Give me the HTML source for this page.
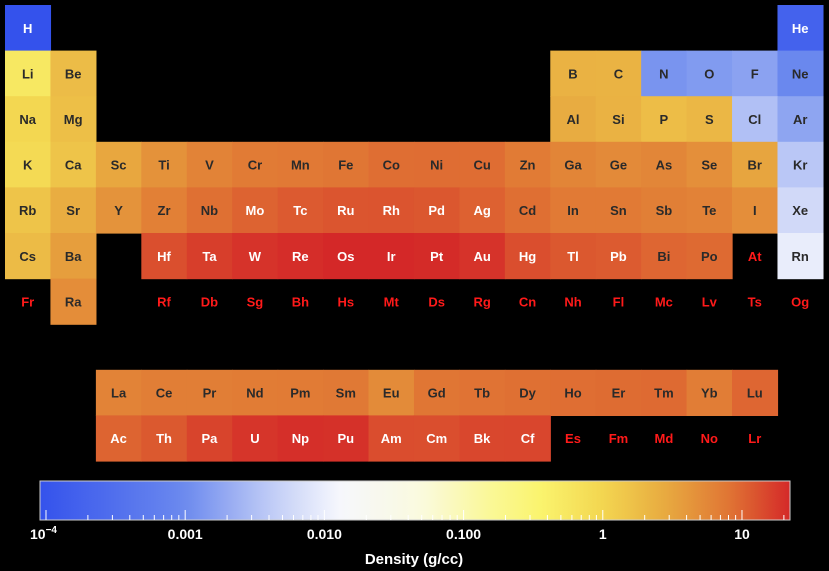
<!DOCTYPE html>
<html><head><meta charset="utf-8"><style>
html,body{margin:0;padding:0;background:#000;}
svg{display:block;font-family:"Liberation Sans",Arial,sans-serif;}
</style></head><body>
<svg id="chart" width="829" height="571" viewBox="0 0 829 571">
<rect width="829" height="571" fill="#000"/>
<g id="cells"></g>
<g id="cbar"></g>
</svg>
<script>
const symbols = ["H","He","Li","Be","B","C","N","O","F","Ne","Na","Mg","Al","Si","P","S","Cl","Ar","K","Ca","Sc","Ti","V","Cr","Mn","Fe","Co","Ni","Cu","Zn","Ga","Ge","As","Se","Br","Kr","Rb","Sr","Y","Zr","Nb","Mo","Tc","Ru","Rh","Pd","Ag","Cd","In","Sn","Sb","Te","I","Xe","Cs","Ba","La","Ce","Pr","Nd","Pm","Sm","Eu","Gd","Tb","Dy","Ho","Er","Tm","Yb","Lu","Hf","Ta","W","Re","Os","Ir","Pt","Au","Hg","Tl","Pb","Bi","Po","At","Rn","Fr","Ra","Ac","Th","Pa","U","Np","Pu","Am","Cm","Bk","Cf","Es","Fm","Md","No","Lr","Rf","Db","Sg","Bh","Hs","Mt","Ds","Rg","Cn","Nh","Fl","Mc","Lv","Ts","Og"];
const densities = [8.99e-5,1.785e-4,0.534,1.85,2.34,2.267,1.251e-3,1.429e-3,1.696e-3,9.0e-4,0.971,1.738,2.698,2.329,1.82,2.067,3.214e-3,1.784e-3,0.862,1.54,2.989,4.54,6.11,7.15,7.44,7.874,8.86,8.912,8.96,7.134,5.907,5.323,5.776,4.809,3.122,3.749e-3,1.532,2.64,4.469,6.506,8.57,10.22,11.5,12.37,12.41,12.02,10.501,8.69,7.31,7.287,6.685,6.232,4.93,5.894e-3,1.873,3.594,6.145,6.77,6.773,7.007,7.26,7.52,5.243,7.895,8.229,8.55,8.795,9.066,9.321,6.965,9.84,13.31,16.654,19.25,21.02,22.61,22.56,21.46,19.282,13.534,11.85,11.342,9.807,9.32,null,9.73e-3,null,5.0,10.07,11.72,15.37,18.95,20.45,19.84,13.69,13.51,14.79,15.1,null,null,null,null,null,null,null,null,null,null,null,null,null,null,null,null,null,null,null,null];
const tickValues = [1e-4,1e-3,1e-2,1e-1,1,10];
const tickLabels = ["10","0.001","0.010","0.100","1","10"];
const logMin = -4.043, logMax = 1.345;
const stops = [[-4.05,[52,82,236]],[-3,[108,138,238]],[-2.4,[190,202,246]],[-1.9,[246,247,253]],[-1.3,[250,250,222]],[-0.8,[250,248,150]],[-0.45,[250,244,110]],[0,[243,214,80]],[0.45,[232,170,64]],[0.9,[224,118,52]],[1.35,[212,40,40]]];
function cmap(v){
  let l=Math.log10(v);
  if(l<=stops[0][0]) return rgb(stops[0][1]);
  for(let i=1;i<stops.length;i++){
    if(l<=stops[i][0]){const a=stops[i-1],b=stops[i];const t=(l-a[0])/(b[0]-a[0]);
      return rgb(a[1].map((c,k)=>c+(b[1][k]-c)*t));}
  }
  return rgb(stops[stops.length-1][1]);
}
function rgb(a){return "rgb("+a.map(x=>Math.round(x)).join(",")+")";}
function pos(z){
  if(z===1) return [0,0]; if(z===2) return [0,17];
  if(z<=10){return [1, z<=4? z-3 : z+7];}
  if(z<=18){return [2, z<=12? z-11 : z-1];}
  if(z<=36) return [3,z-19];
  if(z<=54) return [4,z-37];
  if(z>=57&&z<=71) return [8,z-57+2];
  if(z>=89&&z<=103) return [9,z-89+2];
  if(z<=56) return [5,z-55];
  if(z<=86) return [5,z-86+17];
  if(z<=88) return [6,z-87];
  return [6,z-118+17];
}
const NS="http://www.w3.org/2000/svg";
const colX=c=>5+c*45.44, rowY=r=>5+r*45.6;
const cells=document.getElementById('cells');
symbols.forEach((s,i)=>{
  const [r,c]=pos(i+1);
  const d=(densities[i]===undefined)?null:densities[i];
  const x=colX(c), y=rowY(r), w=45.44, h=45.6;
  const g=document.createElementNS(NS,'g');
  
  
  if(d!==null){
    const rc=document.createElementNS(NS,'rect');
    rc.setAttribute('x',x);rc.setAttribute('y',y);rc.setAttribute('width',w+0.6);rc.setAttribute('height',h+0.6);
    rc.setAttribute('fill',cmap(d));
    
    
    g.appendChild(rc);
  }
  const t=document.createElementNS(NS,'text');
  t.setAttribute('x',x+w/2);t.setAttribute('y',y+h/2+5);
  t.setAttribute('text-anchor','middle');t.setAttribute('font-size','13');t.setAttribute('font-weight','bold');
  t.setAttribute('fill', d===null? '#ff1a1a' : (d>=10||d<3e-4? '#fff':'#2a2a2a'));
  
  
  t.textContent=s;
  g.appendChild(t);
  cells.appendChild(g);
});
const cb=document.getElementById('cbar');
const bx0=40,bx1=790,by0=481,by1=520;
const xs=v=>bx0+(Math.log10(v)-logMin)/(logMax-logMin)*(bx1-bx0);
const defs=document.createElementNS(NS,'defs');
const lg=document.createElementNS(NS,'linearGradient');
lg.setAttribute('id','grad');lg.setAttribute('x1','0');lg.setAttribute('x2','1');lg.setAttribute('y1','0');lg.setAttribute('y2','0');
for(let k=0;k<=60;k++){
  const l=logMin+(logMax-logMin)*k/60;
  const st=document.createElementNS(NS,'stop');
  st.setAttribute('offset',(k/60));st.setAttribute('stop-color',cmap(Math.pow(10,l)));
  lg.appendChild(st);
}
defs.appendChild(lg);cb.appendChild(defs);
const br=document.createElementNS(NS,'rect');
br.setAttribute('x',bx0);br.setAttribute('y',by0);br.setAttribute('width',bx1-bx0);br.setAttribute('height',by1-by0);
br.setAttribute('fill','url(#grad)');br.setAttribute('stroke','#ccc');br.setAttribute('stroke-width','1');


cb.appendChild(br);
for(let e=-4;e<=1;e++){
  for(let m=1;m<=9;m++){
    const v=m*Math.pow(10,e);
    if(Math.log10(v)>logMax) continue;
    const x=xs(v);
    const ln=document.createElementNS(NS,'line');
    ln.setAttribute('x1',x);ln.setAttribute('x2',x);ln.setAttribute('y1',by1);ln.setAttribute('y2',by1-(m===1?10:5));
    ln.setAttribute('stroke','#fff');ln.setAttribute('stroke-width','1');
    
    
    cb.appendChild(ln);
  }
}
tickValues.forEach((v,i)=>{
  const t=document.createElementNS(NS,'text');
  t.setAttribute('x',i===0? 30 : xs(v));t.setAttribute('y',539);
  t.setAttribute('text-anchor',i===0?'start':'middle');t.setAttribute('font-size','14');t.setAttribute('font-weight','bold');t.setAttribute('fill','#fff');
  
  
  t.textContent=tickLabels[i];
  if(i===0){const sp=document.createElementNS(NS,'tspan');sp.setAttribute('dy','-6');sp.setAttribute('font-size','10');sp.textContent='−4';t.appendChild(sp);}
  cb.appendChild(t);
});
const tt=document.createElementNS(NS,'text');
tt.setAttribute('x',414);tt.setAttribute('y',564);tt.setAttribute('text-anchor','middle');
tt.setAttribute('font-size','15');tt.setAttribute('font-weight','bold');tt.setAttribute('fill','#fff');


tt.textContent='Density (g/cc)';
cb.appendChild(tt);
</script>
</body></html>
